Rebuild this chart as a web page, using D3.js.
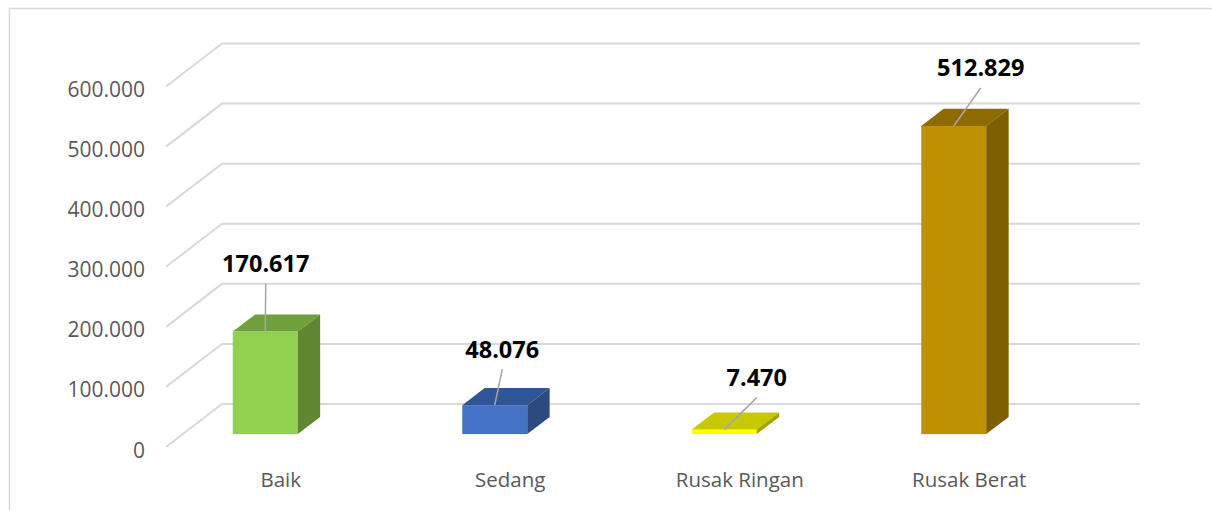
<!DOCTYPE html>
<html>
<head>
<meta charset="utf-8">
<script src="https://cdn.jsdelivr.net/npm/d3@7/dist/d3.min.js"></script>
<style>
  html, body { margin: 0; padding: 0; background: #fff; }
  svg { display: block; }
</style>
</head>
<body>
<svg id="chart" width="1212" height="510"></svg>
<script>
// ---- data ----
const categories = ["Baik", "Sedang", "Rusak Ringan", "Rusak Berat"];
const values = [170617, 48076, 7470, 512829];
const tickValues = [0, 100000, 200000, 300000, 400000, 500000, 600000];
const frontColors = ["#92d050", "#4472c4", "#ffff00", "#bf9000"];
const topColors = ["#70a03c", "#2f5597", "#c8c800", "#8e6b00"];
const sideColors = ["#5e8731", "#2c4a80", "#a3a300", "#7d5e00"];
// manual label offsets (layout only) relative to bar front-top centre
const labelOffsets = [[0.5, -68], [7.5, -56], [32.5, -52], [27, -58]];

// ---- layout ----
const svg = d3.select("#chart");
const floorLeft = 166, floorRight = 1084;
const depthDX = 56, depthDY = 43;        // full floor depth offset
const d0 = 0.3, d1 = 0.7;                // bar depth fraction range

const loc = d3.formatLocale({decimal: ",", thousands: ".", grouping: [3], currency: ["", ""]});
const fmt = loc.format(",d");

const x = d3.scaleBand().domain(categories).range([floorLeft, floorRight]).padding(0);
const y = d3.scaleLinear().domain([0, 600000]).range([447, 86.5]);

// frame
svg.append("rect").attr("x", 9.5).attr("y", 8.5).attr("width", 1300).attr("height", 600)
  .attr("fill", "#fff").attr("stroke", "#d9d9d9").attr("stroke-width", 1.5);

// gridlines (floor/side diagonal + back wall)
svg.append("g").selectAll("path").data(tickValues).join("path")
  .attr("d", v => `M${floorLeft},${y(v)} L${floorLeft + depthDX},${y(v) - depthDY} L${floorRight + depthDX},${y(v) - depthDY}`)
  .attr("fill", "none").attr("stroke", "#d9d9d9").attr("stroke-width", 2);

// y-axis labels
svg.append("g").selectAll("text").data(tickValues).join("text")
  .attr("x", 145).attr("y", v => y(v) + 10.5)
  .attr("text-anchor", "end")
  .attr("font-family", "'Open Sans', sans-serif").attr("font-size", 21)
  .attr("fill", "#595959")
  .text(v => fmt(v));

// category labels
svg.append("g").selectAll("text").data(categories).join("text")
  .attr("x", c => x(c) + x.bandwidth() / 2).attr("y", 487)
  .attr("text-anchor", "middle")
  .attr("font-family", "'Open Sans', sans-serif").attr("font-size", 20.5)
  .attr("fill", "#595959")
  .text(c => c);

// bars
const barW = 65;
const bdx = depthDX * (d1 - d0), bdy = depthDY * (d1 - d0);
const bars = categories.map((c, i) => {
  const x0 = x(c) + x.bandwidth() / 2 - 48;
  const yb = y(0) - depthDY * d0;
  const yt = y(values[i]) - depthDY * d0;
  return {c, i, x0, yb, yt};
});

const g = svg.append("g");
bars.forEach(b => {
  const {x0, yb, yt, i} = b;
  g.append("rect").attr("x", x0).attr("y", yt).attr("width", barW).attr("height", yb - yt)
    .attr("fill", frontColors[i]);
  g.append("path")
    .attr("d", `M${x0},${yt} L${x0 + barW},${yt} L${x0 + barW + bdx},${yt - bdy} L${x0 + bdx},${yt - bdy} Z`)
    .attr("fill", topColors[i]);
  g.append("path")
    .attr("d", `M${x0 + barW},${yt} L${x0 + barW + bdx},${yt - bdy} L${x0 + barW + bdx},${yb - bdy} L${x0 + barW},${yb} Z`)
    .attr("fill", sideColors[i]);
});

// leader lines + value labels
bars.forEach(b => {
  const {x0, yt, i} = b;
  const cx = x0 + barW / 2;
  const lx = cx + labelOffsets[i][0];
  const ly = yt + labelOffsets[i][1];
  svg.append("line").attr("x1", lx).attr("y1", ly + 20).attr("x2", cx).attr("y2", yt)
    .attr("stroke", "#a6a6a6").attr("stroke-width", 1.5);
  svg.append("text").attr("x", lx).attr("y", ly + 8.5)
    .attr("text-anchor", "middle")
    .attr("font-family", "'Open Sans', sans-serif").attr("font-weight", "bold").attr("font-size", 23.5)
    .attr("fill", "#000")
    .text(fmt(values[i]));
});
</script>
</body>
</html>
